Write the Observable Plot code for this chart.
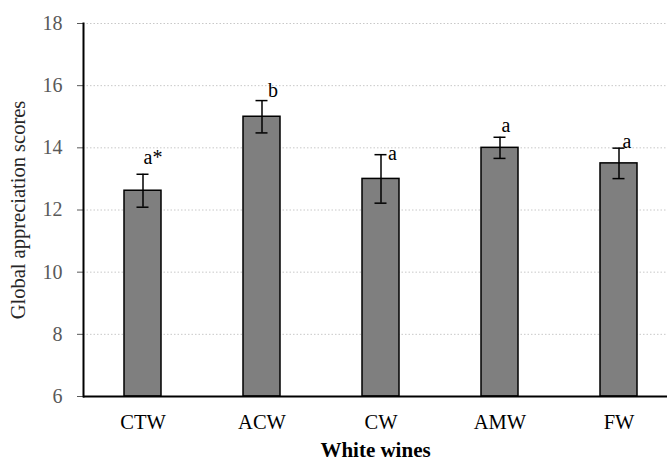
<!DOCTYPE html>
<html>
<head>
<meta charset="utf-8">
<script src="https://cdn.jsdelivr.net/npm/d3@7"></script>
<script src="https://cdn.jsdelivr.net/npm/@observablehq/plot@0.6"></script>
<style>
  html, body { margin: 0; padding: 0; background: #fff; }
  svg { display: block; }
  svg text, svg g { font-family: "Liberation Serif", "DejaVu Serif", serif !important; }
</style>
</head>
<body>
<div id="chart"></div>
<script>
const wines = ["CTW", "ACW", "CW", "AMW", "FW"];
const scores = [12.62, 15.0, 13.0, 14.0, 13.5];
const errors = [0.53, 0.52, 0.78, 0.34, 0.49];
const letters = ["a*", "b", "a", "a", "a"];
const yTicks = [6, 8, 10, 12, 14, 16, 18];

const data = wines.map((w, i) => ({
  wine: w, score: scores[i], err: errors[i], letter: letters[i],
  lo: scores[i] - errors[i], hi: scores[i] + errors[i]
}));

// per-label offsets (dx, dy) relative to error-bar top
const labelOffsets = [[10, -17], [11, -10], [11.5, -1], [6, -12], [8, -7]];

const FONT = "Liberation Serif, DejaVu Serif, serif";

const plot = Plot.plot({
  width: 667,
  height: 462,
  marginLeft: 83,
  marginRight: 0,
  marginTop: 23,
  marginBottom: 66,
  style: { background: "#fff", overflow: "visible", fontFamily: FONT },
  x: { domain: wines, range: [83, 678], paddingInner: 0.685, paddingOuter: 0.3425, label: null },
  y: { domain: [6, 18], label: null },
  marks: [
    Plot.gridY(yTicks.filter(d => d > 6), { stroke: "#c8c8c8", strokeOpacity: 1, strokeDasharray: "1.5,2", strokeWidth: 1 }),
    Plot.barY(data, { x: "wine", y1: 6, y2: "score", fill: "#7f7f7f", stroke: "#000", strokeWidth: 1.5 }),
    Plot.ruleX(data, { x: "wine", y1: "lo", y2: "hi", stroke: "#000", strokeWidth: 1.5 }),
    Plot.tickY(data, { x: "wine", y: "lo", stroke: "#000", strokeWidth: 1.5, inset: 12.5 }),
    Plot.tickY(data, { x: "wine", y: "hi", stroke: "#000", strokeWidth: 1.5, inset: 12.5 }),
    ...labelOffsets.map(([dx, dy], i) =>
      Plot.text([data[i]], { x: "wine", y: "hi", text: "letter", dx, dy, fontSize: 20, fill: "#000", fontFamily: FONT })
    ),
    Plot.axisY({ ticks: yTicks, tickSize: 6, tickPadding: 15, fontSize: 20, color: "#595959", label: null, tickFormat: d => d, fontFamily: FONT }),
    Plot.axisX({ tickSize: 0, tickPadding: 18, fontSize: 20.5, color: "#000", label: null, fontFamily: FONT }),
    Plot.ruleY([6], { stroke: "#000", strokeWidth: 2 }),
    Plot.frame({ anchor: "left", stroke: "#000", strokeWidth: 2 }),
    Plot.text(["Global appreciation scores"], { frameAnchor: "left", textAnchor: "middle", lineAnchor: "middle", rotate: -90, dx: -65, fontSize: 20.5, fill: "#262626", fontFamily: FONT }),
    Plot.text(["White wines"], { frameAnchor: "bottom", lineAnchor: "middle", dy: 54, fontSize: 21, fontWeight: "bold", fill: "#000", fontFamily: FONT })
  ]
});

document.getElementById("chart").appendChild(plot);
</script>
</body>
</html>
